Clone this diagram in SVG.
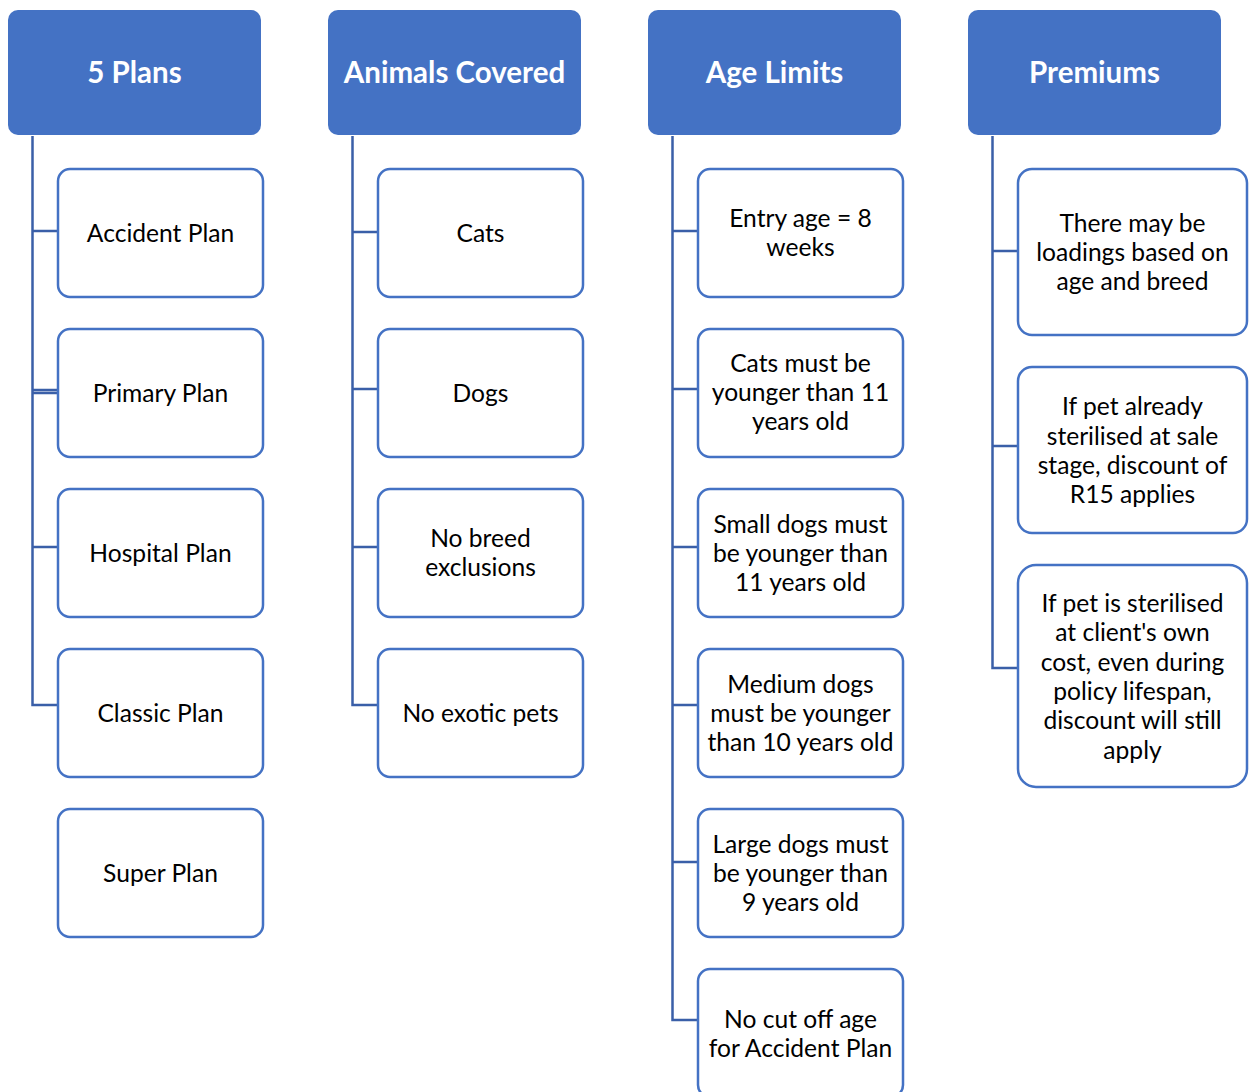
<svg xmlns="http://www.w3.org/2000/svg" width="1249" height="1092" viewBox="0 0 1249 1092">
<style>
.hdr{fill:#4472C4;}
.ht{fill:#FFFFFF;font-family:Lato,"Liberation Sans",sans-serif;font-weight:bold;font-size:29.5px;text-anchor:middle;dominant-baseline:central;}
.box{fill:#FFFFFF;stroke:#4472C4;stroke-width:2.5;}
.t{fill:#000000;font-family:Lato,"Liberation Sans",sans-serif;font-size:24.6px;text-anchor:middle;dominant-baseline:central;}
.c{fill:none;stroke:#3A5FA8;stroke-width:2.5;}
</style>
<rect width="1249" height="1092" fill="#FFFFFF"/>
<g id="connectors">
<path class="c" d="M32.5 136V705H58M32.5 231H58M32.5 390H58M32.5 393H58M32.5 547H58"/>
<path class="c" d="M352.5 136V705H378M352.5 232H378M352.5 389H378M352.5 547H378"/>
<path class="c" d="M672.5 136V1020H698M672.5 231H698M672.5 389H698M672.5 547H698M672.5 705H698M672.5 862H698"/>
<path class="c" d="M992.5 136V668H1018M992.5 251H1018M992.5 446H1018"/>
</g>
<g id="h1"><rect class="hdr" x="8" y="10" width="253" height="125" rx="10"/><text class="ht" x="134.5" y="71">5 Plans</text></g>
<g id="h2"><rect class="hdr" x="328" y="10" width="253" height="125" rx="10"/><text class="ht" x="454.5" y="71">Animals Covered</text></g>
<g id="h3"><rect class="hdr" x="648" y="10" width="253" height="125" rx="10"/><text class="ht" x="774.5" y="71">Age Limits</text></g>
<g id="h4"><rect class="hdr" x="968" y="10" width="253" height="125" rx="10"/><text class="ht" x="1094.5" y="71">Premiums</text></g>

<g id="accident"><rect class="box" x="58" y="169" width="205" height="128" rx="12"/><text class="t" x="160.5" y="232">Accident Plan</text></g>
<g id="primary"><rect class="box" x="58" y="329" width="205" height="128" rx="12"/><text class="t" x="160.5" y="392">Primary Plan</text></g>
<g id="hospital"><rect class="box" x="58" y="489" width="205" height="128" rx="12"/><text class="t" x="160.5" y="552">Hospital Plan</text></g>
<g id="classic"><rect class="box" x="58" y="649" width="205" height="128" rx="12"/><text class="t" x="160.5" y="712">Classic Plan</text></g>
<g id="super"><rect class="box" x="58" y="809" width="205" height="128" rx="12"/><text class="t" x="160.5" y="872">Super Plan</text></g>

<g id="cats"><rect class="box" x="378" y="169" width="205" height="128" rx="12"/><text class="t" x="480.5" y="232">Cats</text></g>
<g id="dogs"><rect class="box" x="378" y="329" width="205" height="128" rx="12"/><text class="t" x="480.5" y="392">Dogs</text></g>
<g id="nobreed"><rect class="box" x="378" y="489" width="205" height="128" rx="12"/><text class="t" x="480.5" y="537">No breed</text><text class="t" x="480.5" y="566">exclusions</text></g>
<g id="noexotic"><rect class="box" x="378" y="649" width="205" height="128" rx="12"/><text class="t" x="480.5" y="712">No exotic pets</text></g>

<g id="entry"><rect class="box" x="698" y="169" width="205" height="128" rx="12"/><text class="t" x="800.5" y="217">Entry age = 8</text><text class="t" x="800.5" y="246">weeks</text></g>
<g id="catsage"><rect class="box" x="698" y="329" width="205" height="128" rx="12"/><text class="t" x="800.5" y="362">Cats must be</text><text class="t" x="800.5" y="391">younger than 11</text><text class="t" x="800.5" y="420">years old</text></g>
<g id="small"><rect class="box" x="698" y="489" width="205" height="128" rx="12"/><text class="t" x="800.5" y="523">Small dogs must</text><text class="t" x="800.5" y="552">be younger than</text><text class="t" x="800.5" y="581">11 years old</text></g>
<g id="medium"><rect class="box" x="698" y="649" width="205" height="128" rx="12"/><text class="t" x="800.5" y="683">Medium dogs</text><text class="t" x="800.5" y="712">must be younger</text><text class="t" x="800.5" y="741">than 10 years old</text></g>
<g id="large"><rect class="box" x="698" y="809" width="205" height="128" rx="12"/><text class="t" x="800.5" y="843">Large dogs must</text><text class="t" x="800.5" y="872">be younger than</text><text class="t" x="800.5" y="901">9 years old</text></g>
<g id="nocut"><rect class="box" x="698" y="969" width="205" height="128" rx="12"/><text class="t" x="800.5" y="1018">No cut off age</text><text class="t" x="800.5" y="1047">for Accident Plan</text></g>

<g id="loadings"><rect class="box" x="1018" y="169" width="229" height="166" rx="14"/><text class="t" x="1132.5" y="222">There may be</text><text class="t" x="1132.5" y="251">loadings based on</text><text class="t" x="1132.5" y="280">age and breed</text></g>
<g id="sterilised"><rect class="box" x="1018" y="367" width="229" height="166" rx="14"/><text class="t" x="1132.5" y="405">If pet already</text><text class="t" x="1132.5" y="435">sterilised at sale</text><text class="t" x="1132.5" y="464">stage, discount of</text><text class="t" x="1132.5" y="493">R15 applies</text></g>
<g id="ownCost"><rect class="box" x="1018" y="565" width="229" height="222" rx="18"/><text class="t" x="1132.5" y="602">If pet is sterilised</text><text class="t" x="1132.5" y="631">at client's own</text><text class="t" x="1132.5" y="661">cost, even during</text><text class="t" x="1132.5" y="690">policy lifespan,</text><text class="t" x="1132.5" y="719">discount will still</text><text class="t" x="1132.5" y="749">apply</text></g>
</svg>
